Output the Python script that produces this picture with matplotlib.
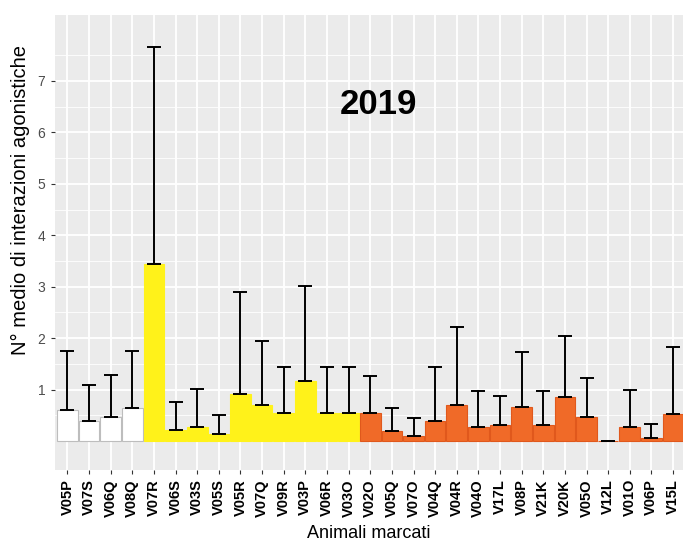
import numpy as np
import matplotlib
matplotlib.use("Agg")
import matplotlib.pyplot as plt

plt.rcParams["font.family"] = ["Liberation Sans", "DejaVu Sans"]

# ===============================
#   DATA
# ===============================
animals = ["V05P", "V07S", "V06Q", "V08Q", "V07R", "V06S", "V03S", "V05S",
           "V05R", "V07Q", "V09R", "V03P", "V06R", "V03O", "V02O", "V05Q",
           "V07O", "V04Q", "V04R", "V04O", "V17L", "V08P", "V21K", "V20K",
           "V05O", "V12L", "V01O", "V06P", "V15L"]
groups = ["white"] * 4 + ["yellow"] * 10 + ["orange"] * 15
means = [0.60, 0.40, 0.47, 0.65, 3.44, 0.21, 0.27, 0.14,
         0.91, 0.70, 0.55, 1.16, 0.55, 0.55, 0.55, 0.20,
         0.11, 0.39, 0.71, 0.27, 0.31, 0.66, 0.31, 0.86,
         0.47, 0.0, 0.27, 0.06, 0.52]
upper = [1.75, 1.10, 1.28, 1.76, 7.65, 0.77, 1.02, 0.51,
         2.90, 1.94, 1.45, 3.02, 1.44, 1.45, 1.27, 0.65,
         0.45, 1.44, 2.22, 0.98, 0.88, 1.73, 0.97, 2.05,
         1.22, 0.0, 1.00, 0.33, 1.83]

colors = {"white": "#FFFFFF", "yellow": "#FFF21A", "orange": "#F06A28"}
edges = {"white": "#BDBDBD", "yellow": "#FFF21A", "orange": "#E0581C"}

# ===============================
#   PLOT
# ===============================
fig = plt.figure(figsize=(6.83, 5.40), dpi=100)
ax = fig.add_axes([54.5 / 683, 1 - 470 / 540, (686 - 54.5) / 683, (470 - 15) / 540])
ax.set_facecolor("#EBEBEB")

x = np.arange(len(animals))
ax.bar(x, means, width=0.95,
       color=[colors[g] for g in groups],
       edgecolor=[edges[g] for g in groups], linewidth=0.8, zorder=2)

err_lo = np.zeros(len(means))
err_hi = np.array(upper) - np.array(means)
ax.errorbar(x, means, yerr=[err_lo, err_hi], fmt="none", ecolor="black",
            elinewidth=1.4, capsize=4.8, capthick=1.4, zorder=3)

ax.set_xlim(-0.6, len(animals) - 0.4)
ax.set_ylim(-0.56, 8.28)
ax.set_yticks([1, 2, 3, 4, 5, 6, 7])
ax.set_yticks([0.5, 1.5, 2.5, 3.5, 4.5, 5.5, 6.5, 7.5], minor=True)
ax.set_xticks(x)
ax.set_xticklabels(animals, rotation=90, fontweight="bold", fontsize=10.5)

ax.grid(True, which="major", color="white", linewidth=1.3, zorder=0)
ax.grid(True, which="minor", axis="y", color="white", linewidth=0.6, zorder=0)
ax.set_axisbelow(True)
for s in ax.spines.values():
    s.set_visible(False)
ax.tick_params(axis="both", which="major", length=3, color="#333333")
ax.tick_params(axis="y", which="minor", length=0)
ax.tick_params(axis="y", labelsize=10, labelcolor="#4D4D4D")

ax.text(14.4, 6.55, "2019", fontsize=25, fontweight="bold", ha="center", va="center")

fig.text(369 / 683, 1 - 533 / 540, "Animali marcati", ha="center", va="center", fontsize=13)
fig.text(20 / 683, 1 - 200 / 540, "N° medio di interazioni agonistiche",
         ha="center", va="center", rotation=90, fontsize=14.5)

fig.savefig("out.png", dpi=100)
plt.close()
